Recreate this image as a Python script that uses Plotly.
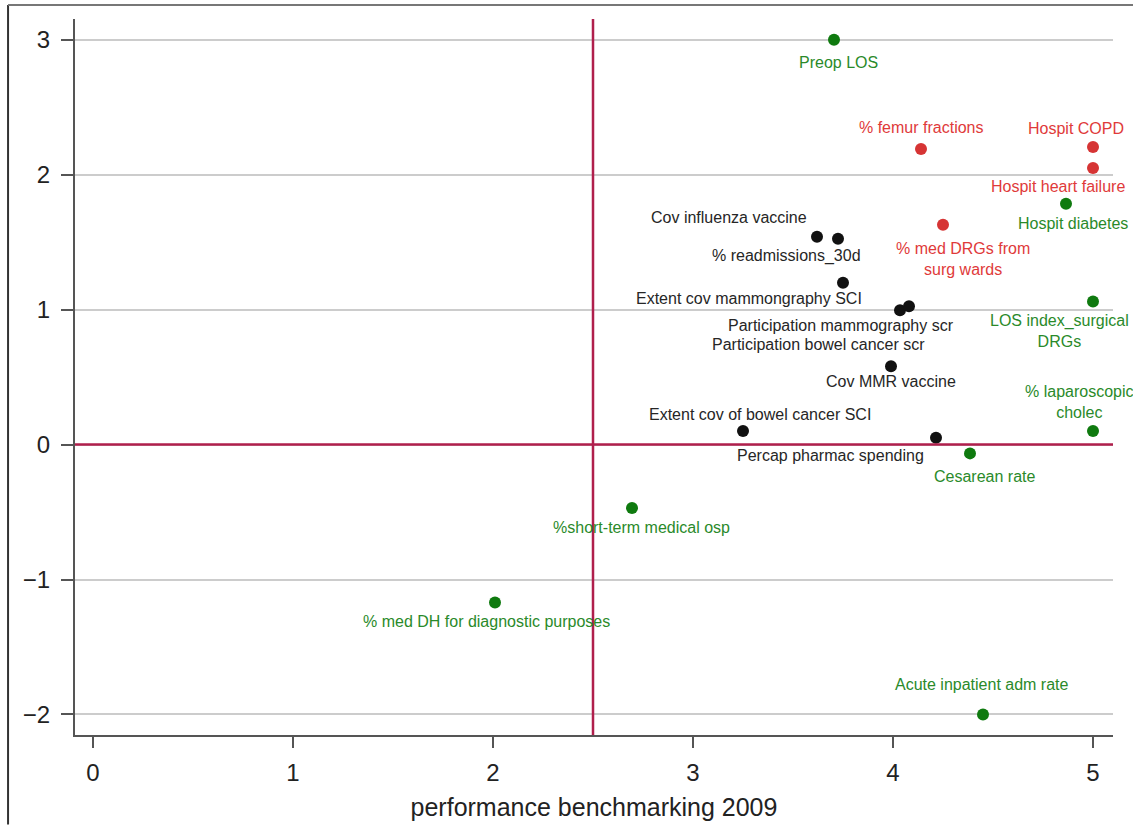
import plotly.graph_objects as go

# ---- data ----
labels = [
    "Preop LOS", "% femur fractions", "Hospit COPD", "Hospit heart failure",
    "Hospit diabetes", "% med DRGs from<br>surg wards", "Cov influenza vaccine",
    "% readmissions_30d", "Extent cov mammongraphy SCI",
    "Participation mammography scr", "Participation bowel cancer scr",
    "Cov MMR vaccine", "LOS index_surgical<br>DRGs", "Extent cov of bowel cancer SCI",
    "Percap pharmac spending", "% laparoscopic<br>cholec", "Cesarean rate",
    "%short-term medical osp", "% med DH for diagnostic purposes",
    "Acute inpatient adm rate",
]
x_vals = [3.705, 4.14, 5.00, 5.00, 4.865, 4.25, 3.62, 3.725, 3.75, 4.035, 4.08,
          3.99, 5.00, 3.25, 4.215, 5.00, 4.385, 2.695, 2.01, 4.45]
y_vals = [3.00, 2.19, 2.205, 2.05, 1.785, 1.63, 1.54, 1.525, 1.20, 0.995, 1.025,
          0.58, 1.06, 0.10, 0.05, 0.10, -0.065, -0.47, -1.17, -2.00]
groups = ["green", "red", "red", "red", "green", "red", "black", "black", "black",
          "black", "black", "black", "green", "black", "black", "green", "green",
          "green", "green", "green"]
x_ticks = [0, 1, 2, 3, 4, 5]
y_ticks = [-2, -1, 0, 1, 2, 3]
x_title = "performance benchmarking 2009"
x_ref, y_ref = 2.5, 0

# ---- styles (label offsets in pixels) ----
label_dx = [4, 0, -17, -35, 7, 20, -88, -52, -94, -59, -91, 0, -34, 17, -106, -14, 14, 9, -9, -1]
label_dy = [-23, 22, 19, -19, -20, -34, 19, -17, -16, -15, -38, -15, -29, 17, -18, 29, -23, -19, -19, 30]
marker_col = {"green": "#0f7a0f", "red": "#d63434", "black": "#111111"}
text_col = {"green": "#2a8a2a", "red": "#e03a3a", "black": "#262626"}
FONT = "Liberation Sans, Arial, Helvetica, sans-serif"

fig = go.Figure()
for g in ["black", "red", "green"]:
    idx = [i for i, gg in enumerate(groups) if gg == g]
    fig.add_trace(go.Scatter(
        x=[x_vals[i] for i in idx], y=[y_vals[i] for i in idx],
        mode="markers", marker=dict(size=12, color=marker_col[g]),
        showlegend=False, hoverinfo="skip", cliponaxis=False))

for i, lab in enumerate(labels):
    fig.add_annotation(x=x_vals[i], y=y_vals[i], text=lab, showarrow=False,
                       xanchor="center", yanchor="middle",
                       xshift=label_dx[i], yshift=label_dy[i],
                       font=dict(family=FONT, size=16, color=text_col[groups[i]]))

# reference lines
fig.add_shape(type="line", x0=x_ref, x1=x_ref, y0=0, y1=1, xref="x", yref="paper",
              line=dict(color="#b01f4c", width=2.5), layer="above")
fig.add_shape(type="line", x0=0, x1=1, y0=y_ref, y1=y_ref, xref="paper", yref="y",
              line=dict(color="#b01f4c", width=2.5), layer="above")

# picture frame (left and top)
fig.add_shape(type="line", x0=-0.0645, x1=-0.0645, y0=-0.125, y1=1.0194,
              xref="paper", yref="paper", line=dict(color="#333333", width=2))
fig.add_shape(type="line", x0=-0.0645, x1=1.02, y0=1.0194, y1=1.0194,
              xref="paper", yref="paper", line=dict(color="#777777", width=2))

fig.update_layout(
    width=1133, height=829,
    margin=dict(l=75, r=20, t=19, b=90),
    paper_bgcolor="white", plot_bgcolor="white",
    font=dict(family=FONT, color="#222222"),
    xaxis=dict(range=[-0.09, 5.1], tickvals=x_ticks, ticks="outside", ticklen=11,
               tickwidth=2, tickcolor="#555555", showline=True, linecolor="#555555",
               linewidth=2, showgrid=False, zeroline=False,
               tickfont=dict(family=FONT, size=24, color="#222222"),
               ticklabelstandoff=4,
               title=dict(text=x_title, standoff=14,
                          font=dict(family=FONT, size=25, color="#222222"))),
    yaxis=dict(range=[-2.152, 3.154], tickvals=y_ticks, ticks="outside", ticklen=12,
               tickwidth=2, tickcolor="#555555", showline=True, linecolor="#555555",
               linewidth=2, showgrid=True, gridcolor="#cccccc", gridwidth=1.5,
               zeroline=False, ticklabelstandoff=6,
               tickfont=dict(family=FONT, size=24, color="#222222")),
)

fig.write_html("out.html", config={"displayModeBar": False},
               post_script="document.body.style.margin='0';document.body.style.overflow='hidden';")
